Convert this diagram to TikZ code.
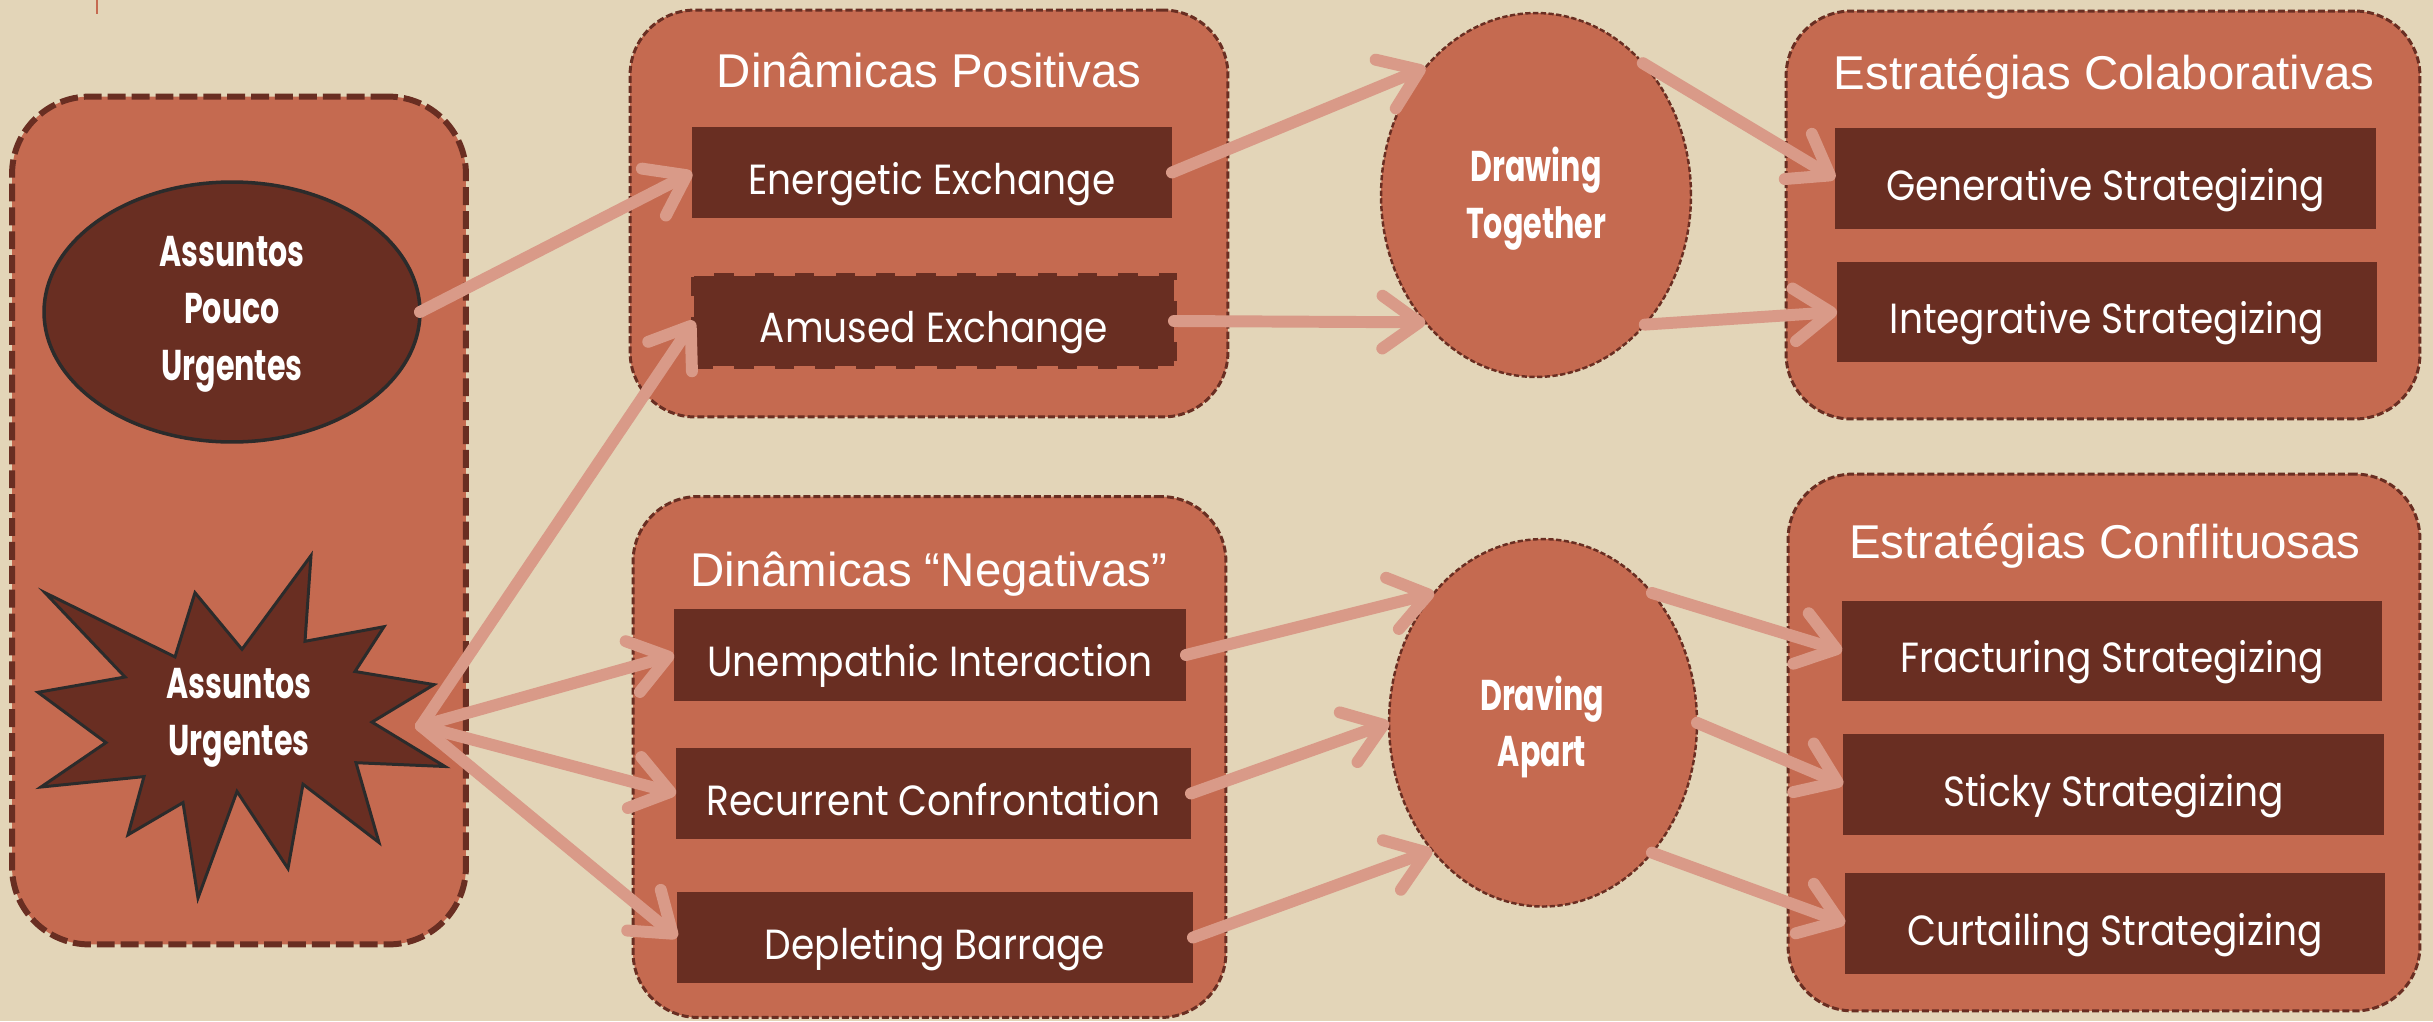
\documentclass[tikz,border=0pt]{standalone}
\usepackage{fontspec}
\setmainfont{Liberation Sans}
\newfontfamily\gothfont[FakeStretch=0.89]{Poppins}
\newfontfamily\gothbold[FakeStretch=0.7]{Poppins}
\usetikzlibrary{arrows.meta, shapes.geometric}

\definecolor{bgbeige}{HTML}{E3D5B8}
\definecolor{boxsalmon}{HTML}{C56A50}
\definecolor{darkbrown}{HTML}{692E22}
\definecolor{arrowpink}{HTML}{D99A88}
\definecolor{edgegray}{HTML}{2B2B2B}

\begin{document}
\begin{tikzpicture}[x=0.02cm, y=-0.02cm,
  grp/.style={draw=darkbrown, fill=boxsalmon, line width=1.7pt, dash pattern=on 4pt off 1.7pt, rounded corners=1.3cm, outer sep=0pt},
  grptitle/.style={text=white, font=\fontsize{27}{30}\selectfont, anchor=base, inner sep=0pt},
  item/.style={fill=darkbrown, text=white, font=\gothfont\fontsize{24}{28}\selectfont, text height=25pt, text depth=0pt, outer sep=0pt},
  bubble/.style={ellipse, draw=darkbrown, fill=boxsalmon, line width=1.4pt, dash pattern=on 3pt off 1.4pt, outer sep=0pt},
  boldlbl/.style={text=white, align=center, font=\gothbold\bfseries\fontsize{24.5}{32.4}\selectfont},
  flow/.style={draw=arrowpink, line width=6.8pt, line cap=round, -{Straight Barb[length=21pt, width=30pt, round]}}
]
\useasboundingbox (0,0) rectangle (2433,1021);
\fill[bgbeige] (0,0) rectangle (2433,1021);
\draw[boxsalmon, line width=1.2pt] (97,0) -- (97,14);

% left column
\node[grp, line width=3.4pt, dash pattern=on 10.2pt off 3.4pt, rounded corners=1.55cm, minimum width=9.08cm, minimum height=16.96cm] (issues) at (239,520.5) {};
\node[ellipse, draw=edgegray, fill=darkbrown, line width=2pt, minimum width=7.52cm, minimum height=5.2cm, outer sep=0pt] (pouco) at (232,312) {};
\node[boldlbl] (poucotxt) at (232,314) {Assuntos\\Pouco\\Urgentes};
\draw[edgegray, fill=darkbrown, line width=1.7pt, line join=miter]
  (45,592.7) -- (175,656.9) -- (195,592.7) -- (242,649.3) -- (311,555.6) -- (305,641.3)
  -- (384,626.7) -- (355,671.5) -- (434,684.6) -- (372,722.1) -- (445,766.5) -- (356,762.7)
  -- (379,842.5) -- (303,784.2) -- (288,868.5) -- (237,791.5) -- (198,898) -- (183,802.6)
  -- (128,834.8) -- (144,776.6) -- (41,787) -- (106,742.6) -- (38,692.3) -- (125,677) -- cycle;
\node[boldlbl] (urg) at (239,718) {Assuntos\\Urgentes};
\coordinate (urgtip) at (421,726);

% dynamics
\node[grp, minimum width=11.96cm, minimum height=8.14cm] (pos) at (929,213.5) {};
\node[grptitle] (postitle) at (929,87) {Dinâmicas Positivas};
\node[item, minimum width=9.6cm, minimum height=1.82cm] (energ) at (932,172.5) {Energetic Exchange};
\node[item, draw=darkbrown, line width=3.4pt, dash pattern=on 11pt off 12pt, minimum width=9.6cm, minimum height=1.8cm] (amused) at (934,321) {Amused Exchange};

\node[grp, minimum width=11.86cm, minimum height=10.42cm] (neg) at (929.5,757) {};
\node[grptitle] (negtitle) at (929,586) {Dinâmicas “Negativas”};
\node[item, minimum width=10.24cm, minimum height=1.83cm] (unemp) at (930,655) {Unempathic Interaction};
\node[item, minimum width=10.3cm, minimum height=1.83cm] (recur) at (933.5,793.5) {Recurrent Confrontation};
\node[item, minimum width=10.32cm, minimum height=1.82cm] (deplet) at (935,937.5) {Depleting Barrage};

% outcomes
\node[bubble, minimum width=6.2cm, minimum height=7.28cm] (together) at (1536,195) {};
\node[boldlbl] (togethertxt) at (1536,199) {Drawing\\Together};
\node[bubble, minimum width=6.16cm, minimum height=7.35cm] (apart) at (1543,722.8) {};
\node[boldlbl] (aparttxt) at (1542,727) {Draving\\Apart};

% strategies
\node[grp, minimum width=12.68cm, minimum height=8.16cm] (colab) at (2103,215) {};
\node[grptitle] (colabtitle) at (2104,89) {Estratégias Colaborativas};
\node[item, minimum width=10.82cm, minimum height=2.02cm] (gener) at (2105.5,178.5) {Generative Strategizing};
\node[item, minimum width=10.8cm, minimum height=2cm] (integ) at (2107,312) {Integrative Strategizing};

\node[grp, minimum width=12.64cm, minimum height=10.74cm] (confl) at (2104,742.5) {};
\node[grptitle] (confltitle) at (2105,558) {Estratégias Conflituosas};
\node[item, minimum width=10.8cm, minimum height=2.01cm] (fract) at (2112,651) {Fracturing Strategizing};
\node[item, minimum width=10.82cm, minimum height=2.01cm] (sticky) at (2113.5,784.5) {Sticky Strategizing};
\node[item, minimum width=10.8cm, minimum height=2.01cm] (curt) at (2115,923.3) {Curtailing Strategizing};

% arrows
\draw[flow] (pouco.east) -- (energ.west);
\draw[flow] (urgtip) -- (amused.west);
\draw[flow] (urgtip) -- (unemp.west);
\draw[flow] (urgtip) -- (recur.west);
\draw[flow] (urgtip) -- (deplet.west);
\draw[flow] (energ.east) -- (together.131);
\draw[flow] (amused.east) -- (together.229);
\draw[flow] (together.51) -- (gener.west);
\draw[flow] (together.-50) -- (integ.west);
\draw[flow] (unemp.east) -- (apart.130);
\draw[flow] (recur.east) -- (apart.west);
\draw[flow] (deplet.east) -- (apart.229);
\draw[flow] (apart.50) -- (fract.west);
\draw[flow] (apart.east) -- (sticky.west);
\draw[flow] (apart.-50) -- (curt.west);
\end{tikzpicture}
\end{document}
